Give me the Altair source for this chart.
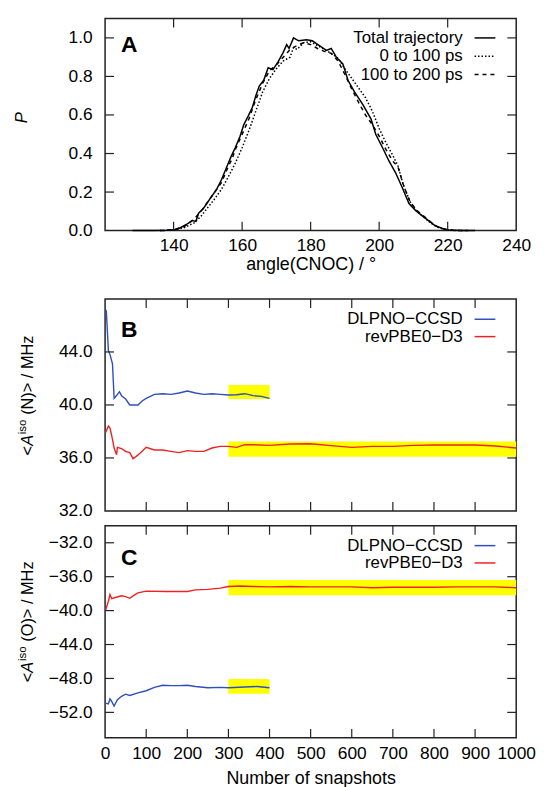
import altair as alt
import pandas as pd

# ---------------- Panel A : angle distributions ----------------
ang_total = [128, 134, 138, 140, 142, 144, 145.5, 146.5, 147.3, 148.7, 150.6, 152.6, 154, 155.5, 156.8, 158,
             159.4, 160.5, 161.8, 163, 164, 165, 166.3, 167.6, 169, 170.5, 172, 173, 173.7, 175, 176.5, 178.8,
             180.5, 181.7, 183, 184.6, 186, 187.5, 189.4, 190.9, 192.8, 195.2, 197.6, 199, 201, 202.9, 204.8,
             206.7, 208.7, 210.6, 212.5, 214.4, 216.3, 218.3, 220.2, 224, 228]
p_total = [0.0, 0.0, 0.002, 0.004, 0.015, 0.035, 0.052, 0.048, 0.09, 0.115, 0.165, 0.215, 0.265, 0.33, 0.385, 0.43,
           0.49, 0.55, 0.595, 0.64, 0.70, 0.75, 0.78, 0.845, 0.835, 0.875, 0.925, 0.965, 0.945, 1.0, 0.985, 0.99,
           0.985, 0.97, 0.955, 0.935, 0.945, 0.90, 0.865, 0.78, 0.72, 0.655, 0.58, 0.50, 0.43, 0.36, 0.30,
           0.225, 0.14, 0.105, 0.078, 0.052, 0.026, 0.012, 0.003, 0.001, 0.0]

ang_0_100 = [136, 140, 143, 146, 148, 150, 152, 154, 156, 158, 160, 162, 164, 166, 168, 170, 172, 174, 175, 176,
             178, 180, 182, 184, 186, 188, 190, 192, 194, 196, 198, 200, 202, 204, 205.5, 207, 209, 211, 213,
             215, 217, 219, 222, 226]
p_0_100 = [0.0, 0.003, 0.015, 0.04, 0.075, 0.12, 0.165, 0.215, 0.28, 0.35, 0.43, 0.52, 0.62, 0.72, 0.79, 0.84,
           0.88, 0.90, 0.95, 0.94, 0.975, 0.98, 0.96, 0.94, 0.92, 0.895, 0.84, 0.79, 0.74, 0.69, 0.62, 0.53,
           0.455, 0.39, 0.335, 0.24, 0.15, 0.10, 0.07, 0.04, 0.018, 0.006, 0.001, 0.0]

ang_100_200 = [136, 140, 143, 146, 148, 150, 152, 154, 156, 157, 158, 160, 162, 164, 166, 168, 170, 172, 174,
               176, 178, 180, 182, 184, 186, 188, 190, 192, 194, 196, 198, 200, 202, 204, 205.5, 207, 209, 211,
               213, 215, 217, 219, 222, 226]
p_100_200 = [0.0, 0.004, 0.02, 0.06, 0.10, 0.15, 0.20, 0.25, 0.335, 0.37, 0.42, 0.50, 0.58, 0.68, 0.765, 0.83,
             0.86, 0.90, 0.94, 0.96, 0.975, 0.965, 0.945, 0.93, 0.92, 0.88, 0.81, 0.735, 0.665, 0.60, 0.55,
             0.49, 0.42, 0.36, 0.33, 0.24, 0.15, 0.105, 0.075, 0.045, 0.02, 0.007, 0.001, 0.0]

# ---------------- Panel B : A_iso(N) ----------------
snap_dl_N = [1, 3, 8, 12, 18, 22, 25, 30, 35, 40, 50, 60, 70, 80, 90, 100, 120, 140, 160, 180, 200, 220, 240,
             260, 280, 300, 320, 340, 360, 380, 400]
a_dl_N = [47.2, 47.1, 44.1, 43.8, 43.1, 40.5, 40.6, 40.8, 41.0, 40.7, 40.45, 40.0, 40.0, 40.0, 40.3, 40.5, 40.8,
          40.85, 40.8, 40.9, 41.05, 40.9, 40.8, 40.85, 40.8, 40.75, 40.77, 40.85, 40.7, 40.65, 40.5]
snap_rev_N = [1, 8, 12, 18, 22, 28, 30, 40, 50, 60, 68, 75, 85, 100, 120, 140, 160, 180, 200, 220, 240, 260, 280,
              300, 320, 340, 360, 400, 450, 500, 550, 600, 650, 700, 750, 800, 850, 900, 950, 1000]
a_rev_N = [37.9, 38.4, 38.25, 37.4, 36.75, 36.25, 36.8, 36.7, 36.5, 36.4, 35.95, 36.1, 36.35, 36.8, 36.6, 36.6,
           36.5, 36.4, 36.55, 36.5, 36.5, 36.75, 36.87, 36.87, 36.8, 37.0, 37.0, 36.95, 37.05, 37.07, 36.93,
           36.8, 36.87, 36.87, 36.95, 36.98, 36.98, 36.98, 36.9, 36.75]
box_N_x1 = [300, 300]
box_N_x2 = [400, 1000]
box_N_y1 = [40.45, 36.1]
box_N_y2 = [41.5, 37.25]

# ---------------- Panel C : A_iso(O) ----------------
snap_dl_O = [1, 8, 12, 16, 22, 30, 40, 50, 60, 80, 100, 120, 140, 160, 180, 200, 220, 250, 280, 300, 340, 370, 400]
a_dl_O = [-50.9, -51.0, -50.4, -50.7, -51.25, -50.5, -50.1, -49.85, -50.0, -49.7, -49.45, -49.05, -48.8,
          -48.85, -48.85, -48.8, -48.95, -49.1, -49.05, -49.1, -49.0, -48.95, -49.1]
snap_rev_O = [1, 8, 12, 16, 25, 40, 50, 60, 70, 80, 100, 150, 200, 220, 250, 280, 300, 330, 360, 400, 450, 500,
              550, 600, 650, 700, 750, 800, 850, 900, 950, 1000]
a_rev_O = [-40.0, -38.9, -38.1, -38.6, -38.45, -38.25, -38.35, -38.55, -38.2, -37.9, -37.7, -37.75, -37.75,
           -37.55, -37.5, -37.35, -37.15, -37.1, -37.15, -37.2, -37.15, -37.2, -37.2, -37.2, -37.3, -37.25,
           -37.25, -37.25, -37.2, -37.2, -37.2, -37.3]
box_O_x1 = [300, 300]
box_O_x2 = [1000, 400]
box_O_y1 = [-38.2, -49.8]
box_O_y2 = [-36.4, -48.05]

# tick values
ticksA_x = [140, 160, 180, 200, 220]
labelsA_x = [140, 160, 180, 200, 220, 240]
ticksA_y = [0.2, 0.4, 0.6, 0.8, 1.0]
labelsA_y = [0.0, 0.2, 0.4, 0.6, 0.8, 1.0]
ticksS_x = [100, 200, 300, 400, 500, 600, 700, 800, 900]
labelsS_x = [0, 100, 200, 300, 400, 500, 600, 700, 800, 900, 1000]
ticksB_y = [36, 40, 44]
labelsB_y = [32, 36, 40, 44]
ticksC_y = [-52, -48, -44, -40, -36, -32]

legendA = ["Total trajectory", "0 to 100 ps", "100 to 200 ps"]
legendBC = ["DLPNO\u2212CCSD", "revPBE0\u2212D3"]

W, H = 415, 214
FONT = "Liberation Sans"
FRAME = "#222222"
BLUE = "#2d4fbf"
RED = "#ee2222"
YELLOW = "#ffff00"
TL = 9


def tick_layers(xt, yt, xsc, ysc, xax, yax):
    dx = alt.Chart(pd.DataFrame({"v": xt}))
    dy = alt.Chart(pd.DataFrame({"v": yt}))
    kw = dict(color=FRAME, strokeWidth=1.2)
    return [
        dx.mark_rule(**kw).encode(x=alt.X("v:Q", scale=xsc, axis=xax), y=alt.value(0), y2=alt.value(TL)),
        dx.mark_rule(**kw).encode(x=alt.X("v:Q", scale=xsc, axis=xax), y=alt.value(H - TL), y2=alt.value(H)),
        dy.mark_rule(**kw).encode(y=alt.Y("v:Q", scale=ysc, axis=yax), x=alt.value(0), x2=alt.value(TL)),
        dy.mark_rule(**kw).encode(y=alt.Y("v:Q", scale=ysc, axis=yax), x=alt.value(W - TL), x2=alt.value(W)),
    ]


def one(text):
    return alt.Chart(pd.DataFrame({"t": [text]}))


def legend_layers(names, colors, dashes, rows):
    out = []
    for name, col, dash, ry in zip(names, colors, dashes, rows):
        out.append(one(name).mark_text(align="right", baseline="middle", font=FONT, fontSize=17, color="black")
                   .encode(text="t:N", x=alt.value(W - 54), y=alt.value(ry)))
        rk = dict(color=col, strokeWidth=1.5)
        if dash:
            rk["strokeDash"] = dash
        out.append(one(name).mark_rule(**rk).encode(x=alt.value(W - 42), x2=alt.value(W - 21), y=alt.value(ry)))
    return out


def letter(ch, by):
    return one(ch).mark_text(align="left", baseline="alphabetic", font=FONT, fontSize=23, fontWeight="bold",
                             color="black").encode(text="t:N", x=alt.value(16), y=alt.value(by))


def ytitle_iso(inner):
    fs = 16.5
    base = dict(angle=270, align="left", baseline="alphabetic", font=FONT, color="black")
    x0, y0 = -73, 158
    pieces = [("<", fs, "normal", 0, 0), ("A", fs, "italic", 9.8, 0), ("iso", 11.5, "normal", 21.5, -7),
              ("(" + inner + ")> / MHz", fs, "normal", 41.0, 0)]
    out = []
    for txt, size, style, dx, dy in pieces:
        out.append(one(txt).mark_text(fontSize=size, fontStyle=style, dx=dx, dy=dy, **base)
                   .encode(text="t:N", x=alt.value(x0), y=alt.value(y0)))
    return out


# ---------- Panel A ----------
xA = alt.Scale(domain=[120, 240], nice=False, zero=False)
yA = alt.Scale(domain=[0, 1.1], nice=False, zero=False)
axXA = alt.Axis(values=labelsA_x, title="angle(CNOC) / \u00b0", labelPadding=6, titlePadding=2)
axYA = alt.Axis(values=labelsA_y, format=".1f", title=None, labelPadding=13)
lineT = alt.Chart(pd.DataFrame({"x": ang_total, "y": p_total})).mark_line(color="black", strokeWidth=1.5).encode(
    x=alt.X("x:Q", scale=xA, axis=axXA), y=alt.Y("y:Q", scale=yA, axis=axYA))
line1 = alt.Chart(pd.DataFrame({"x": ang_0_100, "y": p_0_100})).mark_line(
    color="black", strokeWidth=1.5, strokeDash=[1.5, 2]).encode(
    x=alt.X("x:Q", scale=xA, axis=axXA), y=alt.Y("y:Q", scale=yA, axis=axYA))
line2 = alt.Chart(pd.DataFrame({"x": ang_100_200, "y": p_100_200})).mark_line(
    color="black", strokeWidth=1.5, strokeDash=[4, 4]).encode(
    x=alt.X("x:Q", scale=xA, axis=axXA), y=alt.Y("y:Q", scale=yA, axis=axYA))
titleP = one("P").mark_text(angle=270, align="center", baseline="alphabetic", font=FONT, fontSize=17,
                            fontStyle="italic", color="black").encode(text="t:N", x=alt.value(-79), y=alt.value(100))
spacer = one("s").mark_rule(strokeOpacity=0).encode(x=alt.value(0), y=alt.value(0), y2=alt.value(277))
panelA = alt.layer(
    lineT, line2, line1,
    *tick_layers(ticksA_x, ticksA_y, xA, yA, axXA, axYA),
    *legend_layers(legendA, ["black"] * 3, [None, [1.5, 2], [4, 4]], [19.5, 38, 56.5]),
    letter("A", 34), titleP, spacer
).properties(width=W, height=H)

# ---------- Panel B ----------
xS = alt.Scale(domain=[0, 1000], nice=False, zero=False)
yB = alt.Scale(domain=[32, 48], nice=False, zero=False)
axYB = alt.Axis(values=labelsB_y, format=".1f", title=None, labelPadding=13)
boxesB = alt.Chart(pd.DataFrame({"x1": box_N_x1, "x2": box_N_x2, "y1": box_N_y1, "y2": box_N_y2})).mark_rect(
    color=YELLOW).encode(x=alt.X("x1:Q", scale=xS, axis=None), x2="x2:Q",
                         y=alt.Y("y1:Q", scale=yB, axis=axYB), y2="y2:Q")
blueB = alt.Chart(pd.DataFrame({"x": snap_dl_N, "y": a_dl_N})).mark_line(color=BLUE, strokeWidth=1.4).encode(
    x=alt.X("x:Q", scale=xS, axis=None), y=alt.Y("y:Q", scale=yB, axis=axYB))
redB = alt.Chart(pd.DataFrame({"x": snap_rev_N, "y": a_rev_N})).mark_line(color=RED, strokeWidth=1.4).encode(
    x=alt.X("x:Q", scale=xS, axis=None), y=alt.Y("y:Q", scale=yB, axis=axYB))
panelB = alt.layer(
    boxesB, blueB, redB,
    *tick_layers(ticksS_x, ticksB_y, xS, yB, None, axYB),
    *legend_layers(legendBC, [BLUE, RED], [None, None], [20.5, 38]),
    letter("B", 38.5), *ytitle_iso("N")
).properties(width=W, height=H)

# ---------- Panel C ----------
yC = alt.Scale(domain=[-55, -30], nice=False, zero=False)
axXC = alt.Axis(values=labelsS_x, format="d", title="Number of snapshots", labelPadding=7, titlePadding=8)
axYC = alt.Axis(values=ticksC_y, format=".1f", title=None, labelPadding=13)
boxesC = alt.Chart(pd.DataFrame({"x1": box_O_x1, "x2": box_O_x2, "y1": box_O_y1, "y2": box_O_y2})).mark_rect(
    color=YELLOW).encode(x=alt.X("x1:Q", scale=xS, axis=axXC), x2="x2:Q",
                         y=alt.Y("y1:Q", scale=yC, axis=axYC), y2="y2:Q")
blueC = alt.Chart(pd.DataFrame({"x": snap_dl_O, "y": a_dl_O})).mark_line(color=BLUE, strokeWidth=1.4).encode(
    x=alt.X("x:Q", scale=xS, axis=axXC), y=alt.Y("y:Q", scale=yC, axis=axYC))
redC = alt.Chart(pd.DataFrame({"x": snap_rev_O, "y": a_rev_O})).mark_line(color=RED, strokeWidth=1.4).encode(
    x=alt.X("x:Q", scale=xS, axis=axXC), y=alt.Y("y:Q", scale=yC, axis=axYC))
panelC = alt.layer(
    boxesC, blueC, redC,
    *tick_layers(ticksS_x, ticksC_y, xS, yC, axXC, axYC),
    *legend_layers(legendBC, [BLUE, RED], [None, None], [20, 37.5]),
    letter("C", 39.5), *ytitle_iso("O")
).properties(width=W, height=H)

chart = alt.vconcat(panelA, panelB, panelC, spacing=3).properties(
    padding={"left": 4, "right": 0, "top": 5, "bottom": 0}, background="white"
).configure_view(stroke=FRAME, strokeWidth=1.5).configure_axis(
    labelFont=FONT, labelFontSize=17.5, labelColor="black", titleFont=FONT, titleFontSize=18,
    titleFontWeight="normal", titleColor="black", ticks=False, domain=False, grid=False, labelFlush=False
)

chart.save("out.html", embed_options={"renderer": "svg", "actions": False})
